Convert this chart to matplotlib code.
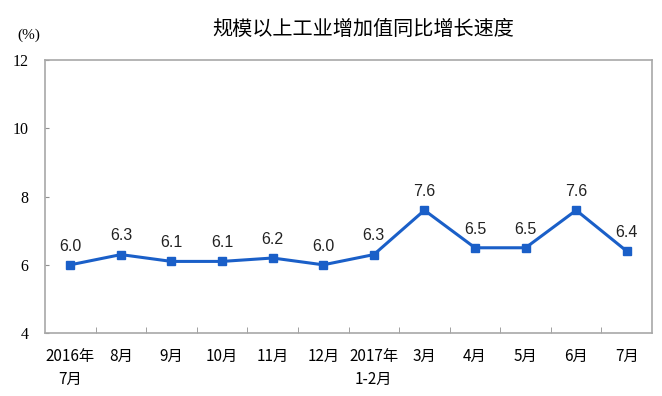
import matplotlib
matplotlib.use("Agg")
import matplotlib.pyplot as plt
import numpy as np

categories = ["2016年\n7月", "8月", "9月", "10月", "11月", "12月", "2017年\n1-2月",
              "3月", "4月", "5月", "6月", "7月"]
values = [6.0, 6.3, 6.1, 6.1, 6.2, 6.0, 6.3, 7.6, 6.5, 6.5, 7.6, 6.4]
yticks = [4, 6, 8, 10, 12]
title = "规模以上工业增加值同比增长速度"

cjk = ["Noto Sans CJK SC", "DejaVu Sans"]
serif = ["Liberation Serif", "DejaVu Serif"]
sans = ["Liberation Sans", "DejaVu Sans"]

fig = plt.figure(figsize=(6.62, 3.96), dpi=100)
ax = fig.add_axes([0.068, 0.159, 0.917, 0.689])

x = np.arange(len(values))
color = "#1A5FC8"
ax.plot(x, values, color=color, lw=2.2, marker="s", ms=6, mec=color, mfc=color)
for xi, v in zip(x, values):
    ax.annotate(f"{v:.1f}", (xi, v), xytext=(0, 8), textcoords="offset points",
                ha="center", va="bottom", fontsize=11.5, family=sans, color="#222222")

ax.set_xlim(-0.5, len(values) - 0.5)
ax.set_ylim(4, 12)
ax.set_yticks(yticks)
ax.set_yticklabels([str(t) for t in yticks], family=serif, fontsize=11.5)
ax.tick_params(axis="y", direction="in", length=3, color="#909090", pad=12)

ax.set_xticks(x)
ax.set_xticklabels(categories, family=cjk, fontsize=11, linespacing=1.45)
ax.set_xticks(np.arange(0.5, len(values) - 0.5, 1), minor=True)
ax.tick_params(axis="x", which="major", length=0, pad=11)
ax.tick_params(axis="x", which="minor", direction="in", length=4, color="#909090")
for lbl in ax.get_xticklabels():
    lbl.set_verticalalignment("top")

for s in ax.spines.values():
    s.set_color("#A8A8A8")
    s.set_linewidth(1.2)

fig.text(0.548, 0.925, title, family=cjk, fontsize=14.5, ha="center", va="center")
fig.text(0.027, 0.91, "(%)", family=serif, fontsize=11, ha="left", va="center")

fig.savefig("out.png", dpi=100)
